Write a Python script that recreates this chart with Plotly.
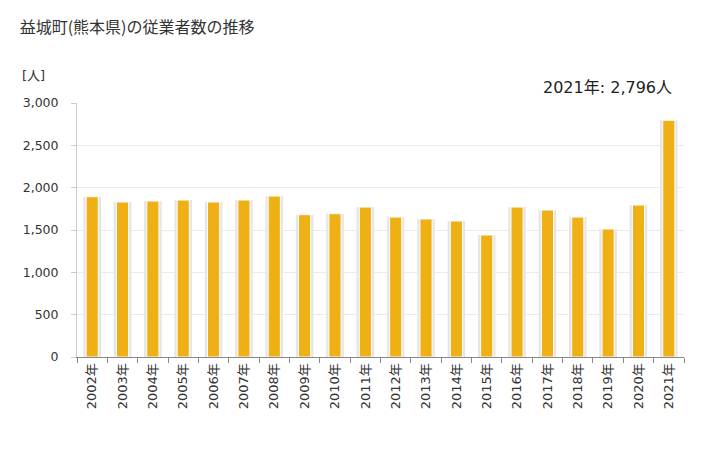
import plotly.graph_objects as go

years = [f"{y}年" for y in range(2002, 2022)]
workers = [1893, 1831, 1842, 1854, 1831, 1854, 1901, 1681, 1693, 1771,
           1653, 1630, 1606, 1441, 1771, 1736, 1653, 1512, 1795, 2796]
y_ticks = [0, 500, 1000, 1500, 2000, 2500, 3000]
y_tick_text = ["0", "500", "1,000", "1,500", "2,000", "2,500", "3,000"]

font = "DejaVu Sans, Noto Sans CJK JP, sans-serif"

fig = go.Figure()
# light shadow behind each bar
fig.add_trace(go.Bar(
    x=years, y=workers, width=0.58,
    marker=dict(color="#e6e6e6", line=dict(width=0)),
    hoverinfo="skip", showlegend=False,
))
fig.add_trace(go.Bar(
    x=years, y=workers, width=0.40,
    marker=dict(color="#eeb015", line=dict(color="white", width=1)),
    showlegend=False,
))

fig.update_layout(
    width=728, height=450,
    barmode="overlay",
    plot_bgcolor="white", paper_bgcolor="white",
    margin=dict(l=77, r=44, t=103, b=93),
    font=dict(family=font, color="#333333", size=12),
    title=dict(text="益城町(熊本県)の従業者数の推移", x=0.027, xanchor="left",
               y=0.94, yanchor="middle",
               font=dict(size=16, color="#333333", family="Noto Sans CJK JP")),
    annotations=[
        dict(text="[人]", xref="paper", yref="paper", x=-0.094, y=1.11,
             xanchor="left", yanchor="middle", showarrow=False,
             font=dict(size=13)),
        dict(text="2021年: 2,796人", xref="paper", yref="paper", x=0.984, y=1.062,
             xanchor="right", yanchor="middle", showarrow=False,
             font=dict(size=16, color="#222222")),
    ],
)
fig.update_yaxes(
    range=[0, 3000], tickvals=y_ticks, ticktext=y_tick_text,
    showgrid=True, gridcolor="#ebebeb", gridwidth=1,
    showline=True, linecolor="#cccccc", linewidth=1,
    ticks="outside", ticklen=5, tickcolor="#cccccc",
    ticklabelstandoff=10, zeroline=False, automargin=False,
    tickfont=dict(size=12.5, color="#333333"),
)
fig.update_xaxes(
    tickangle=-90, showline=True, linecolor="#888888", linewidth=1,
    ticks="outside", ticklen=5, tickcolor="#888888", tickson="boundaries",
    tickfont=dict(size=13, color="#333333"), showgrid=False, automargin=False,
)

# drop the browser's default 8px body margin so the figure sits at (0, 0)
fig.write_html("out.html", config={"displayModeBar": False},
               post_script="document.body.style.margin = '0';")
